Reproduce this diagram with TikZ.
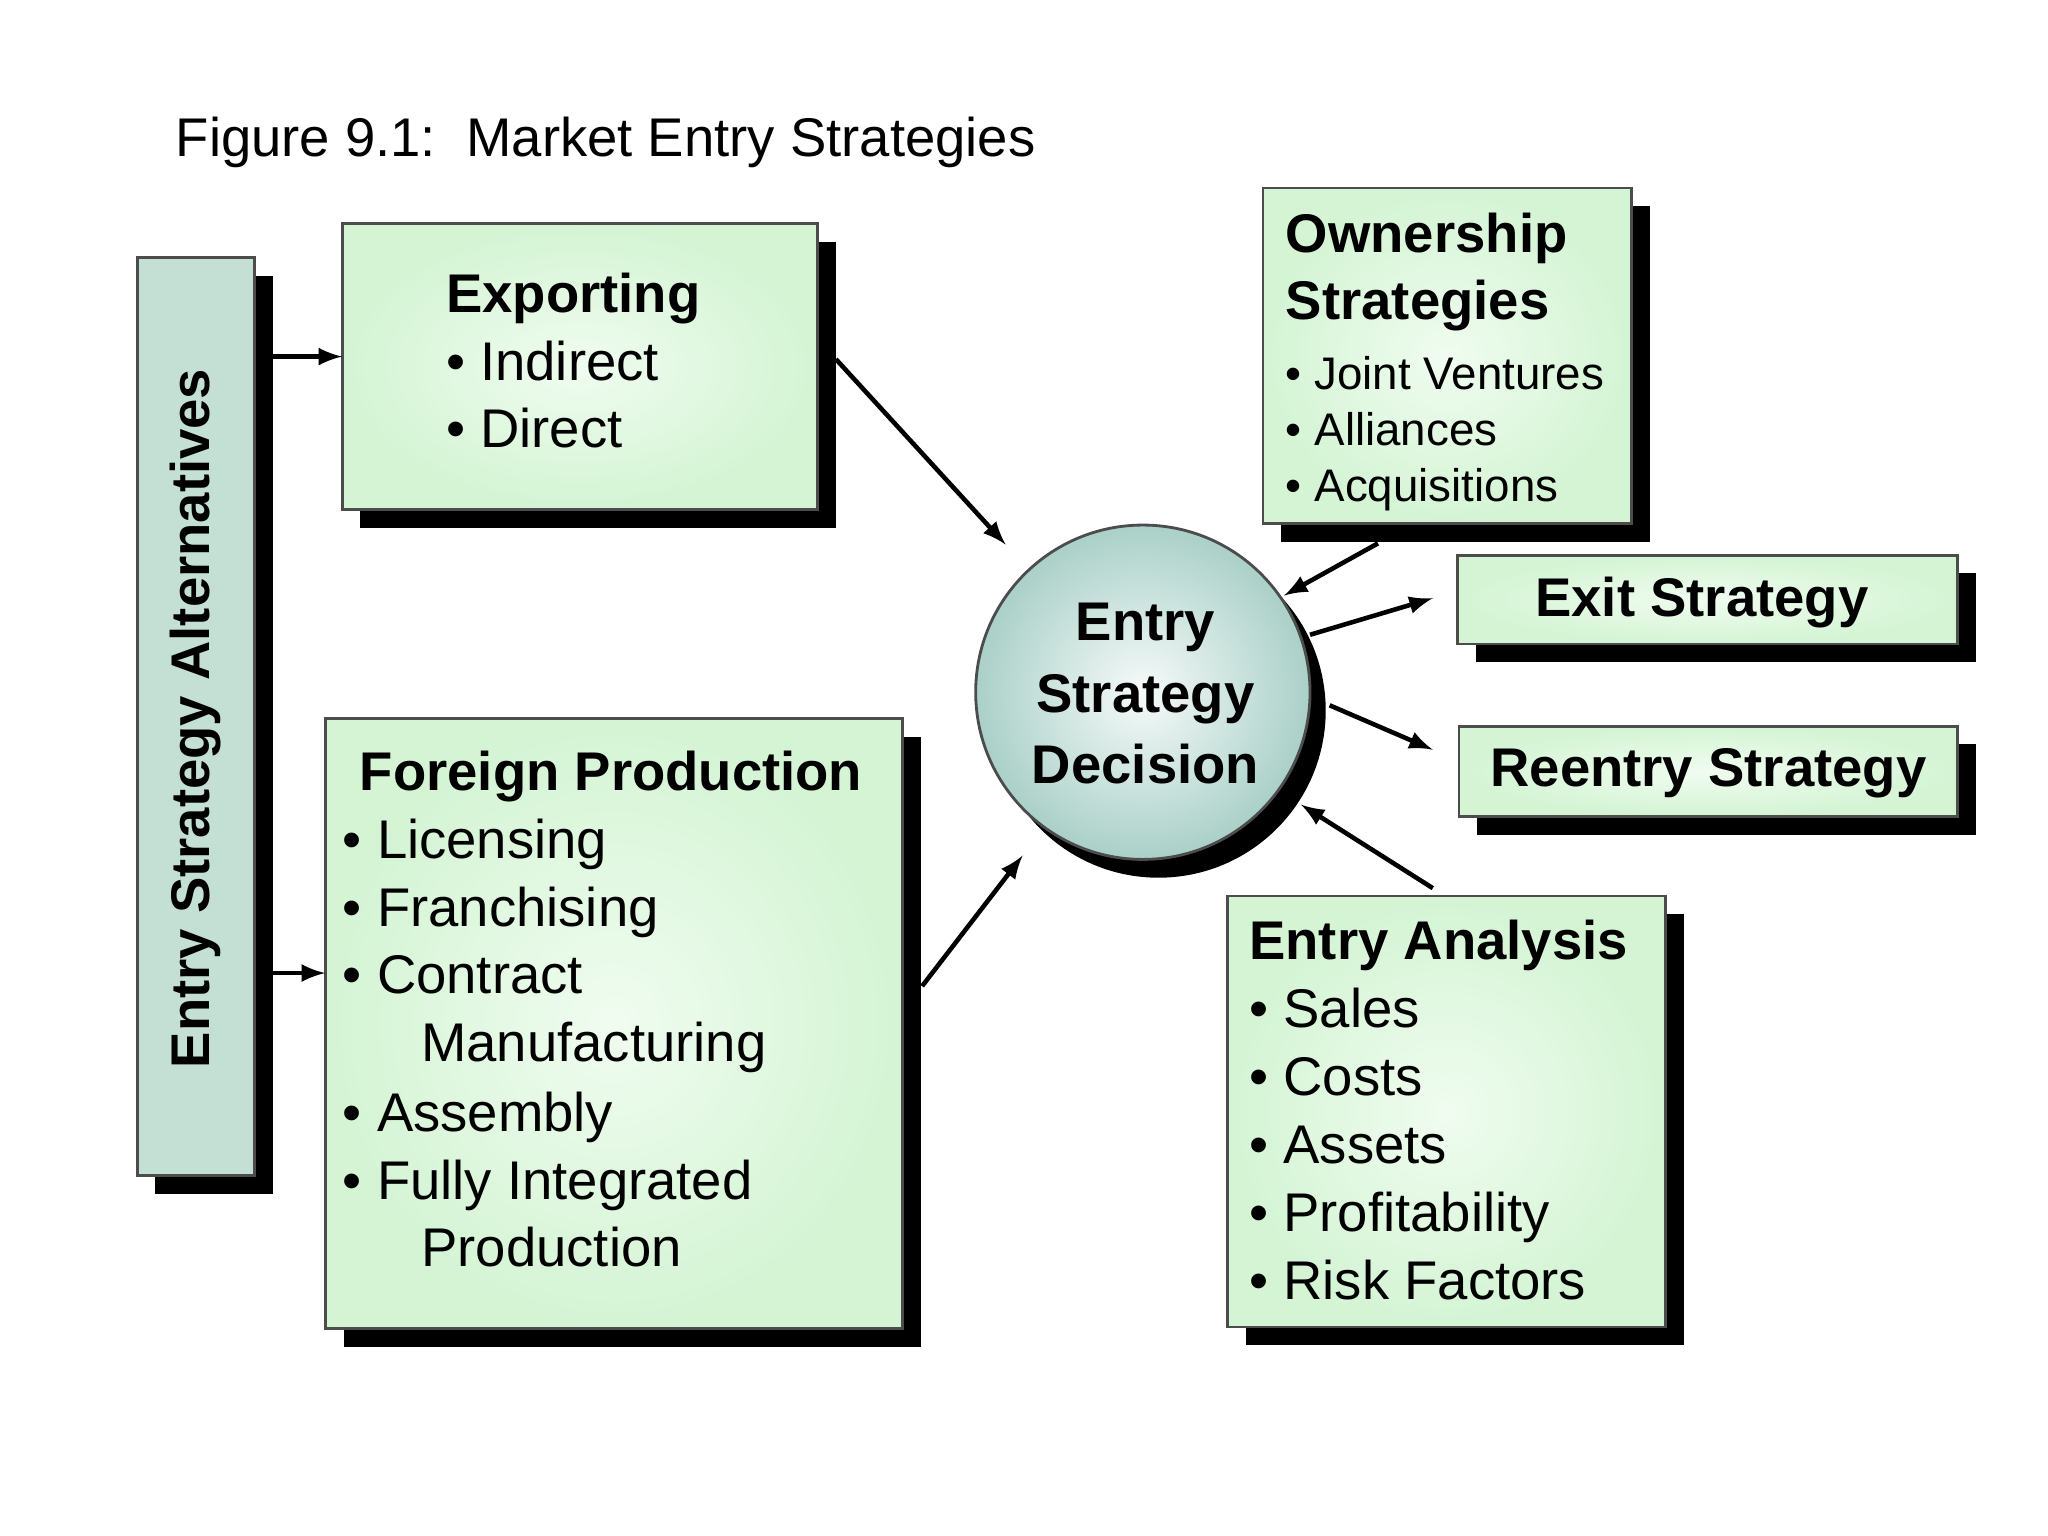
\documentclass[tikz,border=0pt]{standalone}
\usepackage{fontspec}
\setmainfont{Liberation Sans}
\usetikzlibrary{shadings}
\definecolor{boxg}{RGB}{212,244,212}
\definecolor{boxl}{RGB}{240,252,240}
\definecolor{barg}{RGB}{196,224,212}
\definecolor{circd}{RGB}{170,208,200}
\begin{document}
\begin{tikzpicture}[x=0.013061cm,y=-0.013061cm,
  shad/.style={fill=black,draw=none},
  box/.style={draw=black!70,line width=0.8pt,inner color=boxl,outer color=boxg},
  big/.style={font=\fontsize{15.5}{19}\selectfont},
  bigb/.style={font=\fontsize{15.5}{19}\selectfont\bfseries},
  sm/.style={font=\fontsize{13}{16}\selectfont},
  t/.style={anchor=base west,inner sep=0pt},
  arr/.style={-latex,line width=1.3pt}]
\useasboundingbox (0,0) rectangle (1568,1176);
\node[t,big] (title) at (134,120) {Figure 9.1:\ \ Market Entry Strategies};
% shadows
\fill[shad] (119,211) rectangle (209,914);
\fill[shad] (276,185) rectangle (640,404);
\fill[shad] (263,564) rectangle (705,1031);
\fill[shad] (981,158) rectangle (1263,415);
\fill[shad] (1130,439) rectangle (1513,507);
\fill[shad] (1131,570) rectangle (1513,639);
\fill[shad] (954,700) rectangle (1289,1030);
\fill[shad] (887,544) circle (128);
% boxes
\draw[draw=black!70,line width=0.8pt,fill=barg] (105,197) rectangle (195,900);
\draw[box] (262,171) rectangle (626,390);
\draw[box] (249,550) rectangle (691,1017);
\draw[box] (967,144) rectangle (1249,401);
\draw[box] (1116,425) rectangle (1499,493);
\draw[box] (1117,556) rectangle (1499,625);
\draw[box] (940,686) rectangle (1275,1016);
\draw[draw=black!70,line width=0.8pt,inner color=white!90!circd,outer color=circd] (875,530) circle (128);
\node[bigb,rotate=90] (alt) at (150,550) {Entry Strategy Alternatives};
% exporting
\node[t,bigb] (e0) at (341,239) {Exporting};
\node[t,big] (e1) at (341,291) {• Indirect};
\node[t,big] (e2) at (341,343) {• Direct};
% foreign production
\node[t,bigb] (f0) at (275,605) {Foreign Production};
\node[t,big] (f1) at (262,657) {• Licensing};
\node[t,big] (f2) at (262,709) {• Franchising};
\node[t,big] (f3) at (262,761) {• Contract};
\node[t,big] (f4) at (322,813) {Manufacturing};
\node[t,big] (f5) at (262,866) {• Assembly};
\node[t,big] (f6) at (262,918) {• Fully Integrated};
\node[t,big] (f7) at (322,970) {Production};
% ownership
\node[t,bigb] (o0) at (984,193) {Ownership};
\node[t,bigb] (o1) at (984,245) {Strategies};
\node[t,sm] (o2) at (984,298) {•\ Joint Ventures};
\node[t,sm] (o3) at (984,341) {• Alliances};
\node[t,sm] (o4) at (984,384) {• Acquisitions};
\node[bigb] (exit) at (1303,461) {Exit Strategy};
\node[bigb] (reen) at (1308,592) {Reentry Strategy};
% analysis
\node[t,bigb] (a0) at (956,735) {Entry Analysis};
\node[t,big] (a1) at (956,787) {• Sales};
\node[t,big] (a2) at (956,839) {• Costs};
\node[t,big] (a3) at (956,891) {• Assets};
\node[t,big] (a4) at (956,943) {• Profitability};
\node[t,big] (a5) at (956,995) {• Risk Factors};
% circle text
\node[bigb,align=center,font=\fontsize{15.5}{20.3}\selectfont\bfseries] (dec) at (877,531) {Entry\\Strategy\\Decision};
% arrow coords
\coordinate (b1) at (209,273); \coordinate (x1) at (262,273);
\coordinate (b2) at (209,745); \coordinate (fp1) at (249,745);
\coordinate (x2) at (640,275); \coordinate (c1) at (770,417);
\coordinate (fp2) at (706,755); \coordinate (c2) at (783,655);
\coordinate (ow) at (1055,416); \coordinate (c3) at (983,456);
\coordinate (c4) at (1003,486); \coordinate (ex) at (1097,458);
\coordinate (c5) at (1018,540); \coordinate (re) at (1097,574);
\coordinate (an) at (1097,680); \coordinate (c6) at (996,616);
\draw[arr] (b1) -- (x1);
\draw[arr] (b2) -- (fp1);
\draw[arr] (x2) -- (c1);
\draw[arr] (fp2) -- (c2);
\draw[arr] (ow) -- (c3);
\draw[arr] (c4) -- (ex);
\draw[arr] (c5) -- (re);
\draw[arr] (an) -- (c6);
\end{tikzpicture}
\end{document}
